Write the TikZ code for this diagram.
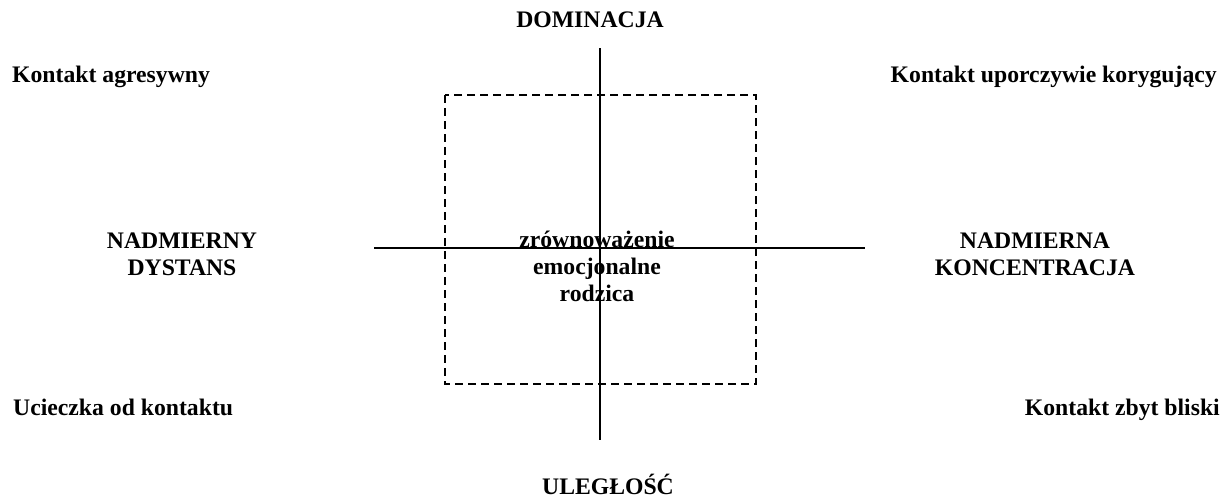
\documentclass[tikz,border=0pt]{standalone}
\usepackage{fontspec}
\setmainfont{Liberation Serif}
\tikzset{
	lbl/.style={font=\bfseries\fontsize{23.7}{27.3}\selectfont, inner sep=0pt, align=center},
	axis/.style={line width=2pt},
	frame/.style={line width=1.6pt, dash pattern=on 8pt off 5pt},
}
\begin{document}
\begin{tikzpicture}[x=1pt,y=-1pt]
\useasboundingbox (0,0) rectangle (1232,499);
\coordinate (top) at (600,48);
\coordinate (bottom) at (600,440);
\coordinate (left) at (374,248);
\coordinate (right) at (865,248);
\draw[axis] (top) -- (bottom);
\draw[axis] (left) -- (right);
\draw[frame] (445,95) rectangle (756,384);

\node[lbl, anchor=base] (dom) at (590,27) {DOMINACJA};
\node[lbl, anchor=base] (ule) at (608,494) {ULEGŁOŚĆ};
\node[lbl, anchor=base west] (agr) at (12,82) {Kontakt agresywny};
\node[lbl, anchor=base east] (kor) at (1217,82) {Kontakt uporczywie korygujący};
\node[lbl, anchor=base west] (ucz) at (13,415) {Ucieczka od kontaktu};
\node[lbl, anchor=base east] (bli) at (1220,415) {Kontakt zbyt bliski};
\node[lbl, anchor=base] (dys) at (182,275.3) {NADMIERNY\\DYSTANS};
\node[lbl, anchor=base] (kon) at (1035,275.3) {NADMIERNA\\KONCENTRACJA};
\node[lbl, anchor=base] (rod) at (597,301.6) {zrównoważenie\\emocjonalne\\rodzica};
\end{tikzpicture}
\end{document}
